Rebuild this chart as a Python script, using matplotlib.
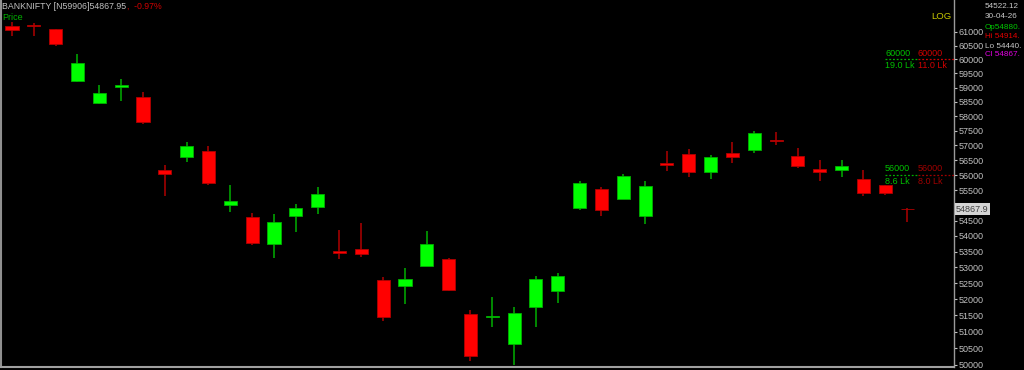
import matplotlib
matplotlib.use('Agg')
import matplotlib.pyplot as plt
import numpy as np
from matplotlib.ticker import FixedLocator, FixedFormatter, NullLocator

plt.rcParams['font.family'] = ['Liberation Sans', 'DejaVu Sans']

# ---------------- data ----------------
opens = [61220, 61235, 61100, 59220, 58450, 59020, 58670, 56160, 56595, 56820,
         55010, 54625, 53735, 54660, 54940, 53530, 53580, 52610, 52405, 53040,
         53275, 51555, 51450, 50630, 51770, 52265, 54920, 55545, 55195, 54660,
         56395, 56695, 56090, 56730, 56845, 57185, 56640, 56190, 56180, 55880,
         55660, 54880]
highs = [61340, 61305, 61110, 60205, 59090, 59300, 58845, 56325, 57115, 56990,
         55660, 54735, 54705, 55040, 55590, 54195, 54410, 52685, 52970, 54170,
         53305, 51660, 52070, 51770, 52725, 52810, 55800, 55610, 56025, 55800,
         56810, 56865, 56675, 57115, 57490, 57455, 56910, 56505, 56495, 56170,
         55670, 54914]
lows = [60855, 60855, 60490, 59195, 58425, 58540, 57730, 55305, 56425, 55670,
        54790, 53710, 53295, 54140, 54725, 53275, 53320, 51340, 51855, 53040,
        52255, 50130, 51155, 50000, 51135, 51895, 54835, 54660, 55195, 54390,
        56135, 55925, 55880, 56395, 56730, 57015, 56245, 55800, 55945, 55295,
        55325, 54440]
closes = [61050, 61205, 60555, 59860, 58800, 59090, 57800, 56025, 56990, 55745,
          55150, 53775, 54455, 54900, 55370, 53465, 53430, 51450, 52630, 53740,
          52295, 50280, 51485, 51565, 52630, 52735, 55725, 54835, 55960, 55635,
          56325, 56090, 56595, 56595, 57410, 57140, 56315, 56090, 56295, 55415,
          55415, 54867.95]

y_ticks = list(range(50000, 61001, 500))
tick_labels = [str(v) for v in y_ticks]

level_prices = [60000, 56000]
level_buy_qty = ['19.0 Lk', '8.6 Lk']
level_sell_qty = ['11.0 Lk', '8.0 Lk']
level_sell_colors = ['#D00000', '#A00000']

title_main = 'BANKNIFTY [N59906]54867.95'
title_change = ',  -0.97%'
info_lines = ['54522.12', '30-04-26', 'Op54880.', 'Hi 54914.', 'Lo 54440.', 'Cl 54867.']
info_colors = ['#C8C8C8', '#C8C8C8', '#00C800', '#E00000', '#C8C8C8', '#E000E0']
last_price_label = '54867.9'

# ---------------- figure ----------------
W, H = 1024, 370
fig = plt.figure(figsize=(W / 100, H / 100), dpi=100, facecolor='black')
ax = fig.add_axes([1 / W, 3 / H, 953 / W, 367 / H], facecolor='black')

x = np.arange(len(opens))
o = np.array(opens, float)
c = np.array(closes, float)
hi = np.array(highs, float)
lo = np.array(lows, float)
up = c >= o

body_col = np.where(up, '#00FF00', '#FF0000')
wick_col = np.where(up, '#00B000', '#B00000')

ax.set_yscale('log')
ax.vlines(x, lo, hi, colors=wick_col, linewidth=1.1, zorder=2)
bottoms = np.minimum(o, c)
heights = np.abs(c - o)
ax.bar(x, heights, bottom=bottoms, width=0.6, color=body_col,
       edgecolor=wick_col, linewidth=0.6, zorder=3)

ax.set_xlim(-0.504, 43.15)
ax.set_ylim(49940, 62165)

ax.yaxis.tick_right()
ax.yaxis.set_major_locator(FixedLocator(y_ticks))
ax.yaxis.set_major_formatter(FixedFormatter(tick_labels))
ax.yaxis.set_minor_locator(NullLocator())
ax.tick_params(axis='y', which='major', colors='#C0C0C0', labelsize=6.5,
               length=2, width=0.8, pad=1, direction='out')
ax.set_xticks([])

ax.spines['top'].set_visible(False)
ax.spines['right'].set_color('#9A9A9A')
ax.spines['right'].set_linewidth(1.0)
ax.spines['bottom'].set_color('#A0A0A0')
ax.spines['bottom'].set_linewidth(1.5)
ax.spines['left'].set_color('#909090')
ax.spines['left'].set_linewidth(1.5)

# order levels
ytr = ax.get_yaxis_transform()
gx0, gx1 = 0.9276, 0.9622
for lvl, bq, sq, scol in zip(level_prices, level_buy_qty, level_sell_qty, level_sell_colors):
    ax.plot([gx0, gx1], [lvl, lvl], transform=ytr, ls=(0, (1.5, 1.5)),
            color='#00B000', lw=0.9, zorder=4)
    ax.plot([gx1, 1.0], [lvl, lvl], transform=ytr, ls=(0, (1.5, 1.5)),
            color=scol, lw=0.9, zorder=4)
    ax.annotate(str(lvl), xy=(gx0, lvl), xycoords=ytr, xytext=(0, 1.2),
                textcoords='offset points', ha='left', va='bottom',
                color='#00C000', fontsize=6.5)
    ax.annotate(str(lvl), xy=(gx1, lvl), xycoords=ytr, xytext=(0, 1.2),
                textcoords='offset points', ha='left', va='bottom',
                color=scol, fontsize=6.5)
    ax.annotate(bq, xy=(gx0, lvl), xycoords=ytr, xytext=(0, -1.2),
                textcoords='offset points', ha='left', va='top',
                color='#00C000', fontsize=6.5)
    ax.annotate(sq, xy=(gx1, lvl), xycoords=ytr, xytext=(0, -1.2),
                textcoords='offset points', ha='left', va='top',
                color=scol, fontsize=6.5)

# last price box
ax.annotate(last_price_label, xy=(1.0, closes[-1]), xycoords=ytr,
            xytext=(1.5, 0), textcoords='offset points', ha='left', va='center',
            color='#404040', fontsize=6.5, zorder=10,
            bbox=dict(boxstyle='square,pad=0.15', facecolor='#D4D4D4',
                      edgecolor='none'),
            annotation_clip=False)

# title texts
def fy(py):
    return 1 - py / H

t1 = fig.text(2 / W, fy(6.5), title_main, color='#C0C0C0', fontsize=6.3,
              ha='left', va='center')
ax.annotate(title_change, xy=(1, 0.5), xycoords=t1, xytext=(0.5, 0),
            textcoords='offset points', ha='left', va='center',
            color='#D00000', fontsize=6.3, annotation_clip=False)
fig.text(2 / W, fy(17), 'Price', color='#00B000', fontsize=6.5,
         ha='left', va='center')
fig.text(951 / W, fy(16.7), 'LOG', color='#C8C800', fontsize=6.8,
         ha='right', va='center')

info_y = [6, 17, 27.7, 36.7, 46, 55]
for txt, col, py in zip(info_lines, info_colors, info_y):
    fig.text(985 / W, fy(py), txt, color=col, fontsize=5.9, ha='left',
             va='center')

fig.savefig('out.png', dpi=100, facecolor='black')
